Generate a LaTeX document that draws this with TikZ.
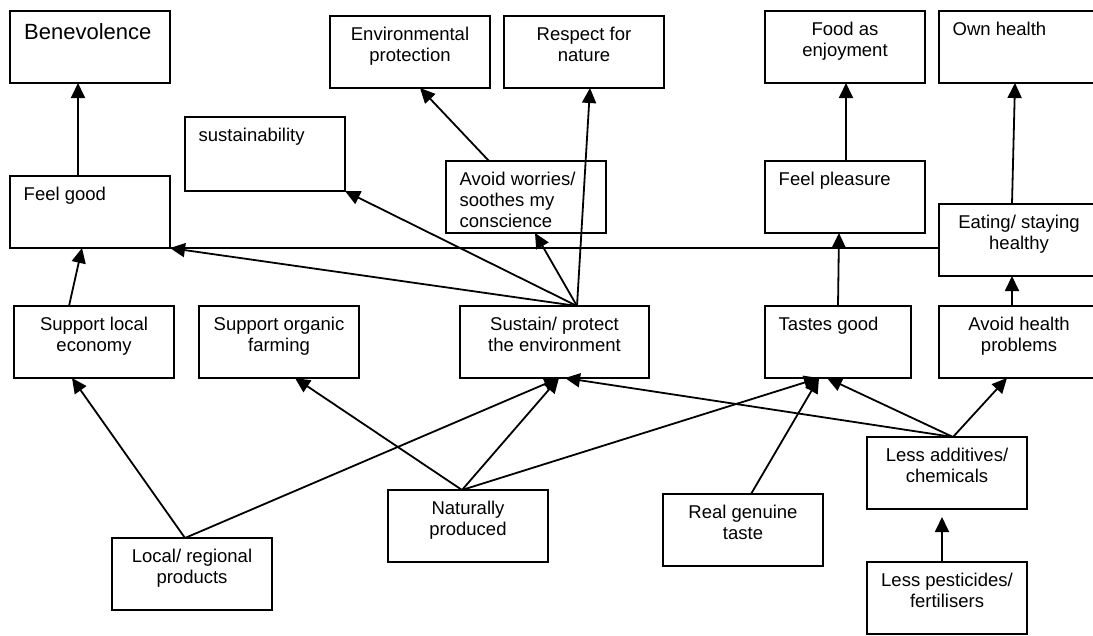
\documentclass[tikz,border=0pt]{standalone}
\usepackage{fontspec}
\setmainfont{Liberation Sans}
\usetikzlibrary{arrows.meta,calc}
\begin{document}
\begin{tikzpicture}[x=1pt,y=-1pt,
  box/.style={draw, line width=1.8pt, anchor=north west, minimum width=160pt, minimum height=72pt, inner sep=0pt, outer sep=0pt},
  txt/.style={font=\fontsize{18.5}{21}\selectfont, inner sep=0pt, align=center},
  lc/.style={label={[txt, anchor=north, yshift=-9.8pt]north:{\strut #1}}},
  ll/.style={label={[txt, align=left, anchor=north west, xshift=13.5pt, yshift=-9.8pt]north west:{\strut #1}}},
  arr/.style={line width=1.8pt, -{Triangle[length=15pt,width=14pt]}},
  ln/.style={line width=1.8pt}]
\clip (0,0) rectangle (1093,635);
% top row
\node[box, label={[font=\fontsize{22}{26}\selectfont, inner sep=0pt, anchor=north west, xshift=14pt, yshift=-9.8pt]north west:{\strut Benevolence}}] (bene) at (10,11) {};
\node[box, lc={Environmental\\protection}] (envp) at (330,16) {};
\node[box, lc={Respect for\\nature}] (resp) at (504,16) {};
\node[box, lc={Food as\\enjoyment}] (food) at (765,11) {};
\node[box, ll={Own health}] (own) at (939,11) {};
% second row
\node[box, ll={sustainability}, minimum height=74pt] (sust) at (185,117) {};
\node[box, ll={Feel good}] (fg) at (10,176) {};
\node[box, ll={Avoid worries/\\soothes my\\conscience}] (avw) at (446,161) {};
\node[box, ll={Feel pleasure}] (fp) at (765,161) {};
\node[box, lc={Eating/ staying\\healthy}] (eat) at (939,204) {};
% third row
\node[box, lc={Support local\\economy}] (sle) at (14,306) {};
\node[box, lc={Support organic\\farming}] (sof) at (199,306) {};
\node[box, lc={Sustain/ protect\\the environment}, minimum width=189pt] (spe) at (460,306) {};
\node[box, ll={Tastes good}, minimum width=146pt] (tg) at (765,306) {};
\node[box, lc={Avoid health\\problems}] (ahp) at (939,306) {};
% bottom
\node[box, lc={Less additives/\\chemicals}] (lac) at (867,437) {};
\node[box, lc={Naturally\\produced}] (nat) at (388,490) {};
\node[box, lc={Real genuine\\taste}] (rgt) at (663,494) {};
\node[box, lc={Local/ regional\\products}] (lrp) at (112,538) {};
\node[box, lc={Less pesticides/\\fertilisers}] (lpf) at (867,562) {};
% connectors
\draw[arr] ($(fg.north west)+(68,0)$) -- ($(bene.south west)+(68,0)$);
\draw[arr] ($(sle.north west)+(55,0)$) -- ($(fg.south west)+(72,0)$);
\draw[arr] ($(lrp.north west)+(73,0)$) -- ($(sle.south west)+(58,0)$);
\draw[arr] ($(lrp.north west)+(73,0)$) -- ($(spe.south west)+(99,0)$);
\draw[arr] ($(nat.north west)+(74,0)$) -- ($(sof.south west)+(96,0)$);
\draw[arr] ($(nat.north west)+(74,0)$) -- ($(spe.south west)+(99,0)$);
\draw[arr] ($(nat.north west)+(74,0)$) -- ($(tg.south west)+(54,0)$);
\draw[arr] ($(rgt.north west)+(88,0)$) -- ($(tg.south west)+(54,0)$);
\draw[arr] ($(lac.north west)+(86,0)$) -- ($(tg.south west)+(62,0)$);
\draw[arr] ($(lac.north west)+(86,0)$) -- ($(spe.south west)+(105,0)$);
\draw[arr] ($(lac.north west)+(86,0)$) -- ($(ahp.south west)+(68,0)$);
\draw[arr, shorten >=8pt] ($(lpf.north west)+(75,0)$) -- ($(lac.south west)+(75,0)$);
\draw[arr] ($(ahp.north west)+(73,0)$) -- ($(eat.south west)+(73,0)$);
\draw[arr] ($(tg.north west)+(73,0)$) -- ($(fp.south west)+(74,0)$);
\draw[arr] ($(fp.north west)+(81,0)$) -- ($(food.south west)+(81,0)$);
\draw[arr] ($(eat.north west)+(73,0)$) -- ($(own.south west)+(76,0)$);
\draw[ln] ($(eat.north west)+(0,44)$) -- (fg.south east);
\draw[arr] ($(spe.north west)+(117,0)$) -- (fg.south east);
\draw[arr] ($(spe.north west)+(117,0)$) -- (sust.south east);
\draw[arr] ($(spe.north west)+(117,0)$) -- ($(avw.south west)+(89,0)$);
\draw[arr] ($(spe.north west)+(117,0)$) -- ($(resp.south west)+(86,0)$);
\draw[arr] ($(avw.north west)+(43,0)$) -- ($(envp.south west)+(90,0)$);
\end{tikzpicture}
\end{document}
